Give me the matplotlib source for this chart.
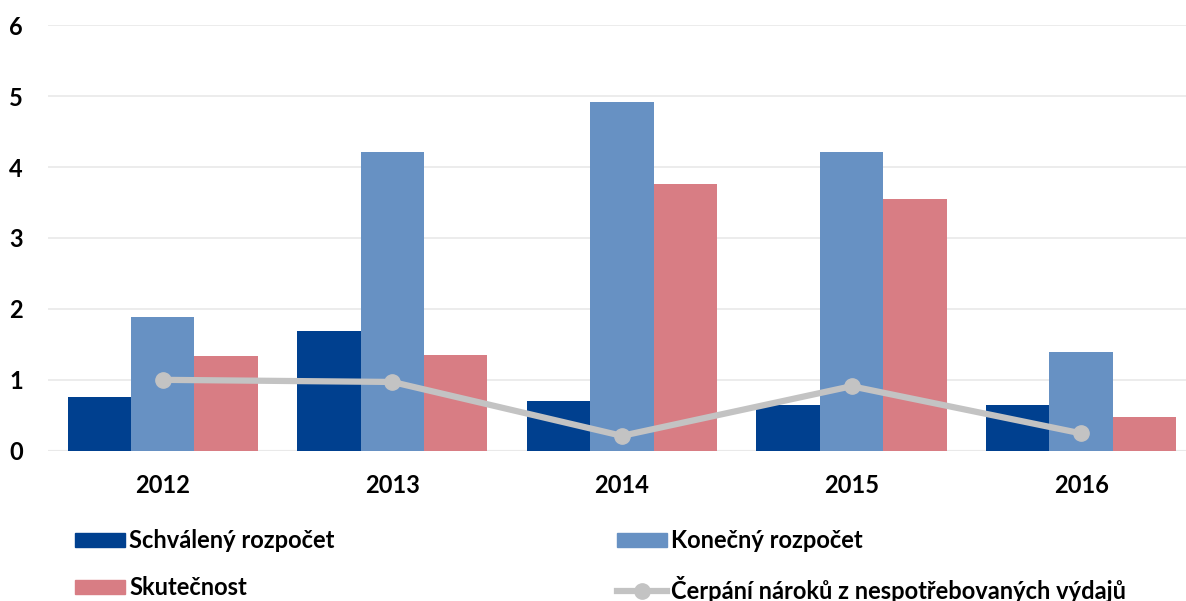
import numpy as np
import matplotlib.pyplot as plt
from matplotlib.patches import Patch
from matplotlib.lines import Line2D

plt.rcParams['font.family'] = ['Lato', 'DejaVu Sans']
plt.rcParams['font.weight'] = 'bold'

years = ['2012', '2013', '2014', '2015', '2016']
schvaleny = [0.76, 1.69, 0.70, 0.645, 0.645]
konecny = [1.886, 4.21, 4.92, 4.21, 1.39]
skutecnost = [1.33, 1.35, 3.76, 3.55, 0.475]
cerpani = [1.0, 0.97, 0.21, 0.91, 0.245]

c_dark = '#00408F'
c_light = '#6791C3'
c_pink = '#D87D84'
c_gray = '#C3C3C3'

fig = plt.figure(figsize=(11.86, 6.01), dpi=100)
ax = fig.add_axes([0.0405, 0.25, 0.9595, 0.708])

x = np.arange(len(years))
w = 0.276
ax.bar(x - w, schvaleny, w, color=c_dark, zorder=2)
ax.bar(x, konecny, w, color=c_light, zorder=2)
ax.bar(x + w, skutecnost, w, color=c_pink, zorder=2)
ax.plot(x, cerpani, color=c_gray, lw=4.5, marker='o', ms=11, zorder=3)

ax.set_ylim(0, 6)
ax.set_xlim(-0.5, 4.457)
ax.set_yticks(range(7))
ax.yaxis.grid(True, color='#EBEBEB', lw=1.3, zorder=0)
ax.axhline(0, color='#D9D9D9', lw=1.5, zorder=1)
for s in ax.spines.values():
    s.set_visible(False)
ax.tick_params(length=0, labelsize=17)
ax.tick_params(axis='x', pad=17)
ax.tick_params(axis='y', pad=18)
ax.set_xticks(x)
ax.set_xticklabels(years)

leg_kw = dict(frameon=False, fontsize=17, handlelength=2.1, handleheight=0.55,
              handletextpad=0.2, labelspacing=1.02, borderpad=0,
              borderaxespad=0, loc='upper left')
h1 = [Patch(color=c_dark), Patch(color=c_pink)]
fig.legend(h1, ['Schválený rozpočet', 'Skutečnost'],
           bbox_to_anchor=(75 / 1186, 1 - 529 / 601), **leg_kw)
h2 = [Patch(color=c_light),
      Line2D([], [], color=c_gray, lw=4.5, marker='o', ms=11)]
fig.legend(h2, ['Konečný rozpočet', 'Čerpání nároků z nespotřebovaných výdajů'],
           bbox_to_anchor=(617 / 1186, 1 - 529 / 601), **leg_kw)

fig.savefig('out.png', dpi=100)
